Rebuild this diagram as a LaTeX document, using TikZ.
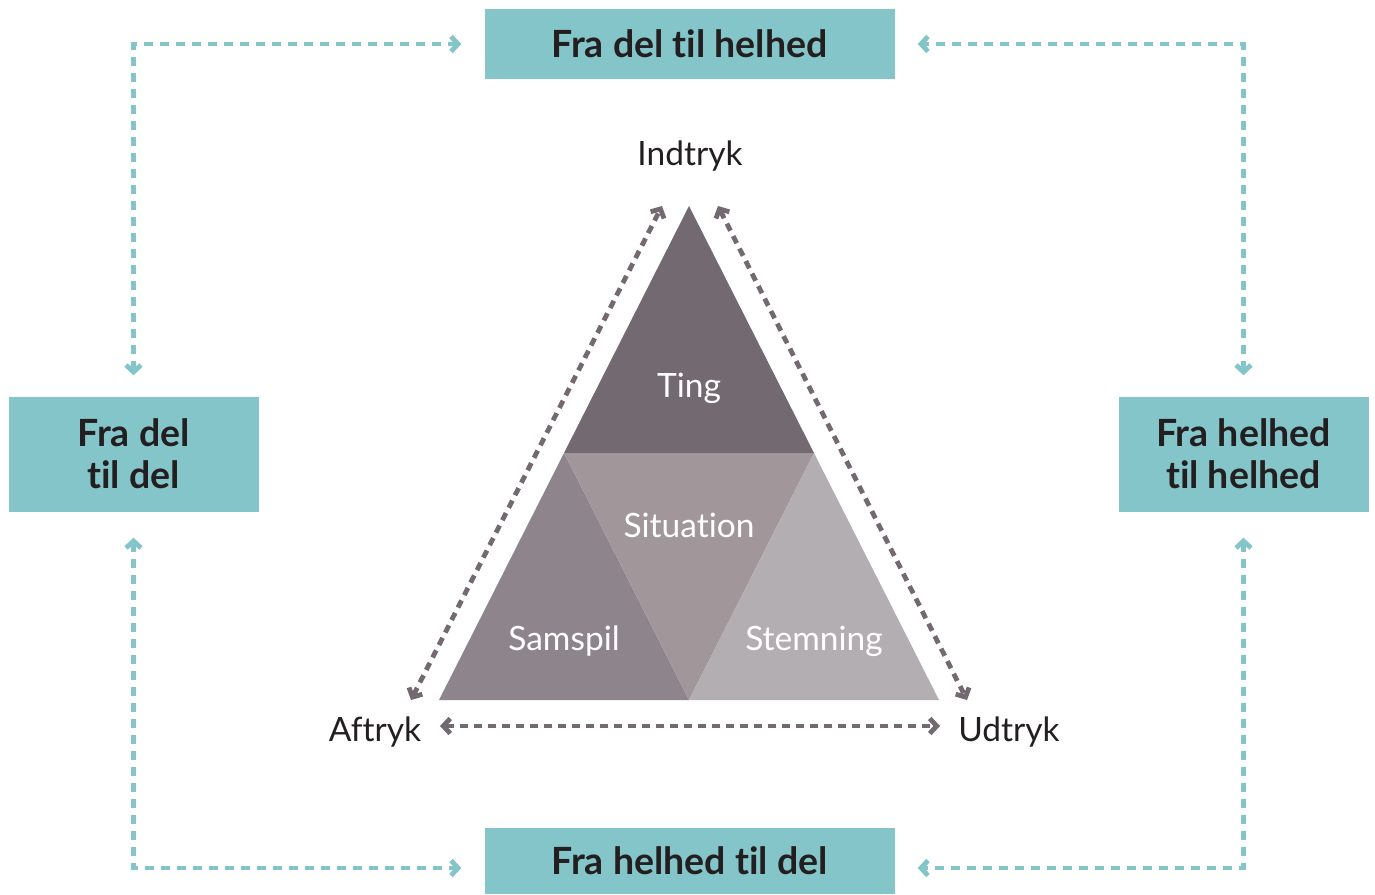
\documentclass[tikz,border=0pt]{standalone}
\usepackage{fontspec}
\setmainfont{Lato}[Ligatures={NoCommon}]
\usetikzlibrary{arrows.meta}
\definecolor{teal1}{HTML}{83C5C8}
\definecolor{tri1}{HTML}{736970}
\definecolor{tri2}{HTML}{8E858C}
\definecolor{tri3}{HTML}{A19699}
\definecolor{tri4}{HTML}{B3AEB1}
\definecolor{ink}{HTML}{231F20}
\tikzset{
  x=1pt,y=-1pt,
  box/.style={fill=teal1, minimum width=410pt, minimum height=70pt, inner sep=0pt,
    font=\fontsize{37.5}{42}\selectfont\bfseries, text=ink, align=center},
  sidebox/.style={box, minimum width=250pt, minimum height=115pt},
  corner/.style={font=\fontsize{33.5}{38}\selectfont, text=ink},
  tritext/.style={font=\fontsize{33.5}{38}\selectfont, text=white},
  tealconn/.style={draw=teal1, line width=4.8pt, dash pattern=on 9pt off 7pt,
    {Straight Barb[length=7pt,width=15pt]}-{Straight Barb[length=7pt,width=15pt]}},
  grayconn/.style={draw=tri1, line width=4.8pt, dash pattern=on 8pt off 6pt,
    {Straight Barb[length=7pt,width=15pt]}-{Straight Barb[length=7pt,width=15pt]}},
}
\begin{document}
\begin{tikzpicture}
\useasboundingbox (0,0) rectangle (1375,894);
% boxes
\node[box] (T) at (689.5,44) {Fra del til helhed};
\node[box, minimum height=66pt] (B) at (689.5,861) {Fra helhed til del};
\node[sidebox] (L) at (133.5,454) {Fra del\\til del};
\node[sidebox] (R) at (1243.5,454) {Fra helhed\\til helhed};
% triangle
\coordinate (A) at (689,206);
\coordinate (BL) at (439,700);
\coordinate (BR) at (939,700);
\coordinate (ML) at (564,453);
\coordinate (MR) at (814,453);
\coordinate (MB) at (689,700);
\fill[tri1] (A) -- (MR) -- (ML) -- cycle;
\fill[tri2] (ML) -- (MB) -- (BL) -- cycle;
\fill[tri3] (ML) -- (MR) -- (MB) -- cycle;
\fill[tri4] (MR) -- (BR) -- (MB) -- cycle;
\node[tritext] (ting) at (689,388) {Ting};
\node[tritext] (sit) at (689,525) {Situation};
\node[tritext] (sam) at (564,641) {Samspil};
\node[tritext] (stem) at (814,641) {Stemning};
% corner labels
\node[corner] (ind) at (690,156) {Indtryk};
\node[corner] (aft) at (375,732) {Aftryk};
\node[corner] (udt) at (1009,732) {Udtryk};
% gray arrows
\coordinate (g1) at (411,700);
\coordinate (g2) at (662,206);
\coordinate (g3) at (718,206);
\coordinate (g4) at (967,700);
\coordinate (g5) at (440,726);
\coordinate (g6) at (940,726);
\draw[grayconn] (g1) -- (g2);
\draw[grayconn] (g3) -- (g4);
\draw[grayconn] (g5) -- (g6);
% teal connectors
\draw[tealconn, shorten <=21pt, shorten >=23pt] (L.north) |- (T.west);
\draw[tealconn, shorten <=21pt, shorten >=23pt] (R.north) |- (T.east);
\draw[tealconn, shorten <=26pt, shorten >=23pt] (L.south) |- ([yshift=-7pt]B.west);
\draw[tealconn, shorten <=26pt, shorten >=23pt] (R.south) |- ([yshift=-7pt]B.east);
\end{tikzpicture}
\end{document}
